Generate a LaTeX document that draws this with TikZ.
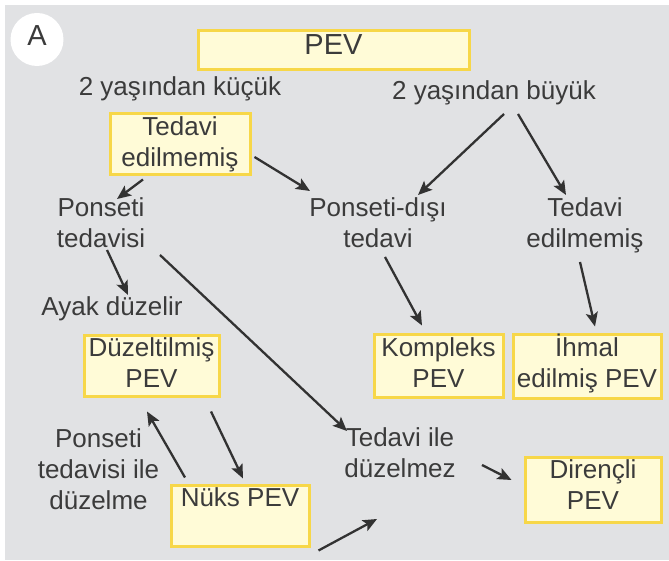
\documentclass[tikz,border=0pt]{standalone}
\usepackage{fontspec}
\setmainfont{Liberation Sans}
\usetikzlibrary{arrows.meta, calc}
\definecolor{pevgray}{HTML}{E1E2E4}
\definecolor{pevfill}{HTML}{FFFBD7}
\definecolor{pevedge}{HTML}{F7D748}
\definecolor{pevtext}{HTML}{3B3B3B}
\tikzset{
  yellowbox/.style={rectangle, draw=pevedge, fill=pevfill, line width=3pt, inner sep=0pt,
                    align=center, anchor=base, text=pevtext, font=\fontsize{26}{31}\selectfont},
  note/.style={inner sep=0pt, align=center, anchor=base, text=pevtext,
               font=\fontsize{26}{31}\selectfont},
  arrow/.style={-{Stealth[length=14pt,width=12pt,inset=3pt]}, line width=2.3pt, color=pevtext!85!black},
}

\begin{document}
\begin{tikzpicture}[x=1pt,y=1pt]
  \useasboundingbox (0,0) rectangle (669,561);
  \fill[pevgray] (5,1) rectangle (669,556);
  \node[circle, fill=white, minimum size=53pt, inner sep=0pt, text=pevtext,
        text height=20pt, text depth=7pt, font=\fontsize{29}{29}\selectfont] (tag) at (37,521.5) {A};

  % top level
  \node[yellowbox, minimum width=271pt, text height=24pt, text depth=15pt,
        font=\fontsize{29}{29}\selectfont] (pev) at (333.5,506) {PEV};
  \node[note] (kucuk) at (180,465) {2 yaşından küçük};
  \node[note] (buyuk) at (494,461) {2 yaşından büyük};

  % second level
  \node[yellowbox, minimum width=140pt, text height=53pt, text depth=8pt] (ted1) at (180,394) {Tedavi\\edilmemiş};
  \node[note] (ponseti) at (101,313) {Ponseti\\tedavisi};
  \node[note] (disi) at (378,313) {Ponseti-dışı\\tedavi};
  \node[note] (ted2) at (585,313) {Tedavi\\edilmemiş};

  % outcomes
  \node[note] (ayak) at (112,245) {Ayak düzelir};
  \node[yellowbox, minimum width=135pt, text height=52pt, text depth=9pt] (duz) at (151.5,173) {Düzeltilmiş\\PEV};
  \node[yellowbox, minimum width=129pt, text height=53pt, text depth=10pt] (komp) at (438.5,173) {Kompleks\\PEV};
  \node[yellowbox, minimum width=148pt, text height=53pt, text depth=11pt] (ihmal) at (587,173) {İhmal\\edilmiş PEV};
  \node[note] (duzelme) at (98.5,51) {Ponseti\\tedavisi ile\\düzelme};
  \node[yellowbox, minimum width=138pt, text height=21pt, text depth=40pt] (nuks) at (240,54) {Nüks PEV};
  \node[note] (duzelmez) at (400,83) {Tedavi ile\\düzelmez};
  \node[yellowbox, minimum width=136pt, text height=52pt, text depth=13pt] (dir) at (593,51) {Dirençli\\PEV};

  % connectors
  \draw[arrow] ($(ted1.south)+(-37,-3)$) -- ($(ponseti.base)+(16,49)$);
  \draw[arrow] ($(ted1.east)+(3,-12.5)$) -- ($(disi.base)+(-68,57)$);
  \draw[arrow] ($(buyuk.base)+(10,-14)$) -- ($(disi.base)+(40,53)$);
  \draw[arrow] ($(buyuk.base)+(24,-14)$) -- ($(ted2.base)+(-19,53)$);
  \draw[arrow] ($(ponseti.base)+(6,-2)$) -- ($(ayak.base)+(16,21)$);
  \draw[arrow] ($(ponseti.base)+(59,-7)$) -- ($(duzelmez.base)+(-53,47)$);
  \draw[arrow] ($(disi.base)+(7,-9)$) -- ($(komp.north)+(-16.5,8)$);
  \draw[arrow] ($(ted2.base)+(-5,-14)$) -- ($(ihmal.north)+(8,7)$);
  \draw[arrow] ($(nuks.north)+(-55,7)$) -- ($(duz.south)+(-4.5,-13)$);
  \draw[arrow] ($(duz.south)+(59.5,-13)$) -- ($(nuks.north)+(3,6)$);
  \draw[arrow] ($(duzelmez.base)+(82,13)$) -- ($(dir.west)+(-12,10.5)$);
  \draw[arrow] ($(nuks.south east)+(8,-2)$) -- ($(duzelmez.base)+(-23,-41)$);
\end{tikzpicture}
\end{document}
